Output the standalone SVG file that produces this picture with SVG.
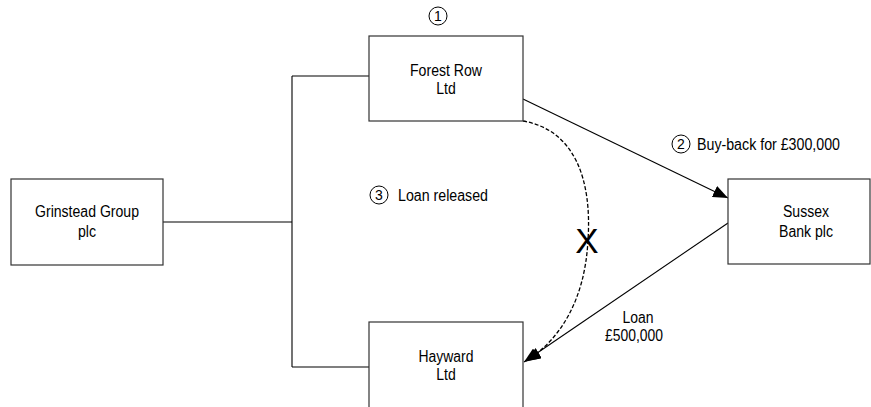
<svg xmlns="http://www.w3.org/2000/svg" width="871" height="407" viewBox="0 0 871 407">
<style>
.box{fill:#fff;stroke:#333;stroke-width:1.2}
.t{font-family:"Liberation Sans",Arial,sans-serif;font-size:16px;fill:#000}
.m{text-anchor:middle}
.c{fill:none;stroke:#000;stroke-width:1}
.num{font-family:"Liberation Sans",Arial,sans-serif;font-size:14px;fill:#000;text-anchor:middle}
.ln{fill:none;stroke:#000;stroke-width:1.1}
.dash{fill:none;stroke:#000;stroke-width:1.3;stroke-dasharray:4,2}
.x{font-family:"Liberation Sans",Arial,sans-serif;font-size:35px;fill:#000;text-anchor:middle}
</style>
<defs>
<marker id="ah" markerWidth="16" markerHeight="12" refX="15" refY="6" orient="auto" markerUnits="userSpaceOnUse">
<path d="M0,0 L15,6 L0,12 Z" fill="#000"/>
</marker>
</defs>
<g id="connectors">
<path class="ln" d="M163,222 H292 M292,76 V367 M292,76 H369 M292,367 H369"/>
<path class="ln" d="M523,99 L728,198" marker-end="url(#ah)"/>
<path class="ln" d="M728,223 L524,362" marker-end="url(#ah)"/>
<path class="dash" d="M523,121 C575,130 592,180 588,240 C585,300 560,340 526,361" marker-end="url(#ah)"/>
<text class="x" x="587" y="253">X</text>
</g>
<g id="grinstead">
<rect class="box" x="11" y="179" width="152" height="86"/>
<text class="t m" x="87" y="217" textLength="104" lengthAdjust="spacingAndGlyphs">Grinstead Group</text>
<text class="t m" x="87" y="237" textLength="18" lengthAdjust="spacingAndGlyphs">plc</text>
</g>
<g id="forestrow">
<rect class="box" x="369" y="36" width="154" height="85"/>
<text class="t m" x="446" y="76" textLength="72" lengthAdjust="spacingAndGlyphs">Forest Row</text>
<text class="t m" x="446" y="94" textLength="19.5" lengthAdjust="spacingAndGlyphs">Ltd</text>
</g>
<g id="hayward">
<rect class="box" x="369" y="322" width="154" height="90"/>
<text class="t m" x="446" y="362" textLength="55" lengthAdjust="spacingAndGlyphs">Hayward</text>
<text class="t m" x="446" y="380" textLength="19.5" lengthAdjust="spacingAndGlyphs">Ltd</text>
</g>
<g id="sussex">
<rect class="box" x="728" y="179" width="142" height="85"/>
<text class="t m" x="806" y="217" textLength="46" lengthAdjust="spacingAndGlyphs">Sussex</text>
<text class="t m" x="806" y="237" textLength="54" lengthAdjust="spacingAndGlyphs">Bank plc</text>
</g>
<g id="labels">
<circle class="c" cx="438" cy="16" r="9"/>
<text class="num" x="438" y="21">1</text>
<circle class="c" cx="681" cy="144" r="9"/>
<text class="num" x="681" y="149">2</text>
<text class="t" x="697" y="150" textLength="143" lengthAdjust="spacingAndGlyphs">Buy-back for £300,000</text>
<circle class="c" cx="379" cy="195" r="9"/>
<text class="num" x="379" y="200">3</text>
<text class="t" x="398" y="201" textLength="90" lengthAdjust="spacingAndGlyphs">Loan released</text>
<text class="t m" x="638" y="323" textLength="31" lengthAdjust="spacingAndGlyphs">Loan</text>
<text class="t m" x="634" y="341" textLength="58" lengthAdjust="spacingAndGlyphs">£500,000</text>
</g>
</svg>
